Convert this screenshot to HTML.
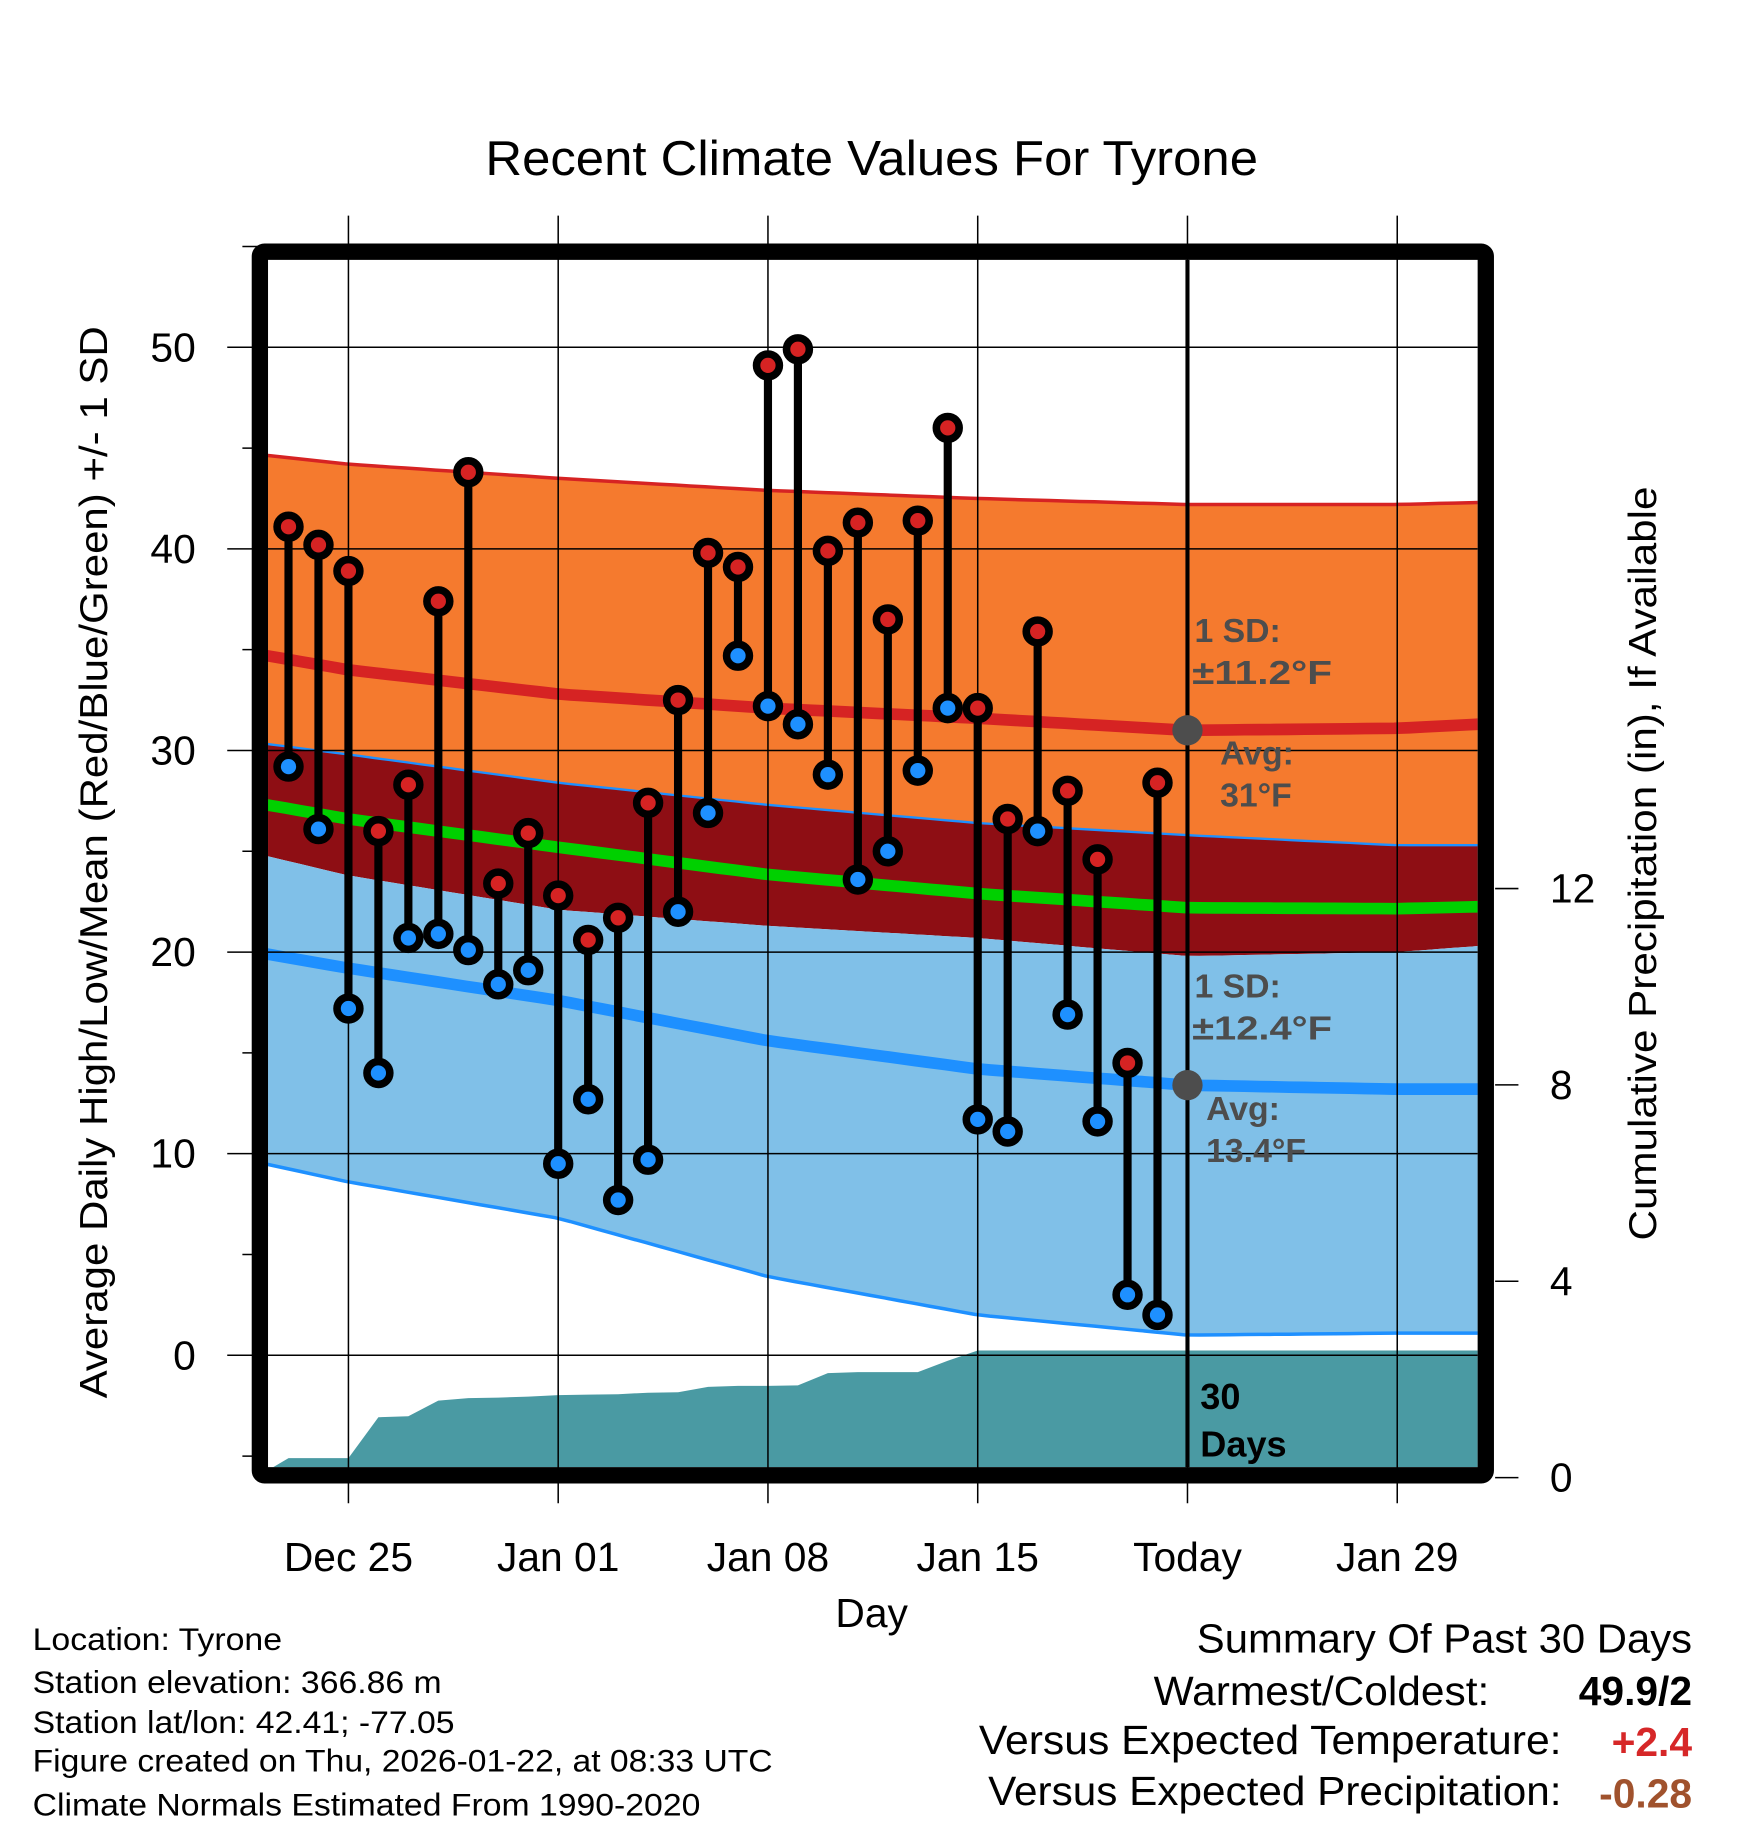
<!DOCTYPE html>
<html><head><meta charset="utf-8"><style>
html,body{margin:0;padding:0;background:#fff}
svg{display:block}
text{font-family:"Liberation Sans",Arial,sans-serif}
</style></head><body>
<svg id="chart" width="1748" height="1828" viewBox="0 0 1500 1568.65" xmlns="http://www.w3.org/2000/svg">
<defs><clipPath id="plotclip"><rect x="230" y="223" width="1038" height="1036"/></clipPath></defs>
<g id="bands" clip-path="url(#plotclip)"></g>
<g id="grid"></g>
<g id="marks" clip-path="url(#plotclip)"></g>
<g id="frame"></g>
<g id="labels"></g>
</svg>
<script>
// ---- data ----
const normDays = [-3.1, 0, 7, 14, 21, 28, 35, 37.7];
const hiMean = [34.8, 34.0, 32.8, 32.1, 31.6, 31.0, 31.1, 31.3];
const hiSD   = [9.9, 10.2, 10.7, 10.8, 10.9, 11.2, 11.1, 11.0];
const loMean = [20.0, 19.2, 17.6, 15.6, 14.2, 13.4, 13.2, 13.2];
const loSD   = [10.4, 10.6, 10.8, 11.7, 12.2, 12.4, 12.1, 12.1];
const obsDays = [-2,-1,0,1,2,3,4,5,6,7,8,9,10,11,12,13,14,15,16,17,18,19,20,21,22,23,24,25,26,27];
const highs = [41.1,40.2,38.9,26.0,28.3,37.4,43.8,23.4,25.9,22.8,20.6,21.7,27.4,32.5,39.8,39.1,49.1,49.9,39.9,41.3,36.5,41.4,46.0,32.1,26.6,35.9,28.0,24.6,14.5,28.4];
const lows  = [29.2,26.1,17.2,14.0,20.7,20.9,20.1,18.4,19.1,9.5,12.7,7.7,9.7,22.0,26.9,34.7,32.2,31.3,28.8,23.6,25.0,29.0,32.1,11.7,11.1,26.0,16.9,11.6,3.0,2.0];
const precipDays = [-3.1,-2,-1,0,1,2,3,4,5,6,7,8,9,10,11,12,13,14,15,16,17,18,19,20,21,22,27,37.7];
const precip = [0,0.4,0.4,0.4,1.23,1.25,1.57,1.62,1.63,1.65,1.68,1.69,1.70,1.73,1.74,1.85,1.87,1.87,1.88,2.13,2.15,2.15,2.15,2.38,2.59,2.59,2.59,2.59];
const yTicks = [0,10,20,30,40,50];
const pTicks = [0,4,8,12];
const xTickDays = [0,7,14,21,28,35];
const xTickLabels = ["Dec 25","Jan 01","Jan 08","Jan 15","Today","Jan 29"];

// ---- axes ----
const X = d => 299 + d*180/7;
const Y = v => 1163 - 17.3*v;
const P = p => 1268 - 42.125*p;
const NS = "http://www.w3.org/2000/svg";
function mk(tag, parent, attrs){const e=document.createElementNS(NS,tag);for(const k in attrs)e.setAttribute(k,attrs[k]);document.getElementById(parent).appendChild(e);return e;}
function interp(arr, d){for(let i=0;i<normDays.length-1;i++){if(d<=normDays[i+1]){const t=(d-normDays[i])/(normDays[i+1]-normDays[i]);return arr[i]+(arr[i+1]-arr[i])*t;}}return arr[arr.length-1];}
const samp=[];for(let d=-3.1;d<37.7;d+=0.5)samp.push(d);samp.push(37.7);
const f=(fn)=>samp.map(d=>X(d).toFixed(1)+","+Y(fn(d)).toFixed(1));
const hiTop=d=>interp(hiMean,d)+interp(hiSD,d), hiBot=d=>interp(hiMean,d)-interp(hiSD,d);
const loTop=d=>interp(loMean,d)+interp(loSD,d), loBot=d=>interp(loMean,d)-interp(loSD,d);
function band(top,bot,fill,name){const p=f(top).concat(f(bot).reverse());const e=mk("polygon","bands",{points:p.join(" "),fill:fill});

}
function line(fn,col,w,name){const e=mk("polyline","bands",{points:f(fn).join(" "),fill:"none",stroke:col,"stroke-width":w});

}
band(hiTop,loTop,"#f57a2e","high-sd-band");
band(loTop,hiBot,"#8e0e14","overlap-band");
band(hiBot,loBot,"#80c0e8","low-sd-band");
line(hiTop,"#d62323",3,"high-plus-sd-line");
line(loTop,"#1e90ff",2,"low-plus-sd-line");
line(loBot,"#1e90ff",3,"low-minus-sd-line");
line(d=>interp(hiMean,d),"#d62323",10,"normal-high-line");
line(d=>interp(loMean,d),"#1e90ff",10,"normal-low-line");
line(d=>(interp(hiMean,d)+interp(loMean,d))/2,"#00d000",10,"normal-mean-line");
// precip
{const pts=precipDays.map((d,i)=>X(d).toFixed(1)+","+P(precip[i]).toFixed(1));pts.push(X(37.7)+","+1270,X(-3.1)+","+1270);
const e=mk("polygon","bands",{points:pts.join(" "),fill:"#4a9aa3"});

}
// grid
yTicks.forEach(v=>{const e=mk("line","grid",{x1:195,x2:1268,y1:Y(v),y2:Y(v),stroke:"#000","stroke-width":1.3});


const t=mk("text","labels",{x:168,y:Y(v)+12,"font-size":35,"text-anchor":"end"});t.textContent=v;

});
for(let v=-5;v<=55;v+=10){const e=mk("line","grid",{x1:208,x2:223,y1:Y(v),y2:Y(v),stroke:"#000","stroke-width":1.3});

}
xTickDays.forEach((d,i)=>{const e=mk("line","grid",{x1:X(d),x2:X(d),y1:185,y2:1290,stroke:"#000","stroke-width":1.3});


const t=mk("text","labels",{x:X(d),y:1348,"font-size":35,"text-anchor":"middle"});t.textContent=xTickLabels[i];

});
pTicks.forEach(p=>{const e=mk("line","grid",{x1:1283,x2:1303,y1:P(p),y2:P(p),stroke:"#000","stroke-width":1.3});


const t=mk("text","labels",{x:1330,y:P(p)+12,"font-size":35});t.textContent=p;

});
// today line
{const e=mk("line","marks",{x1:X(28),x2:X(28),y1:215,y2:1270,stroke:"#000","stroke-width":3.5});

}
// stems & dots
obsDays.forEach((d,i)=>{const x=X(d);
const s=mk("line","marks",{x1:x,x2:x,y1:Y(highs[i]),y2:Y(lows[i]),stroke:"#000","stroke-width":7});


const h=mk("circle","marks",{cx:x,cy:Y(highs[i]),r:9.8,fill:"#d62323",stroke:"#000","stroke-width":6.5});


const l=mk("circle","marks",{cx:x,cy:Y(lows[i]),r:9.8,fill:"#1e90ff",stroke:"#000","stroke-width":6.5});

});
// today avg dots
{const a=mk("circle","marks",{cx:X(28),cy:Y(interp(hiMean,28)),r:13,fill:"#4d4d4d"});


const b=mk("circle","marks",{cx:X(28),cy:Y(interp(loMean,28)),r:13,fill:"#4d4d4d"});

}
// frame
{const e=mk("rect","frame",{x:223,y:216,width:1052,height:1050,fill:"none",stroke:"#000","stroke-width":14,rx:4});

}
</script>
<svg style="position:absolute;left:0;top:0" width="1748" height="1828" viewBox="0 0 1500 1568.65" xmlns="http://www.w3.org/2000/svg">
<text x="748" y="150" font-size="42" text-anchor="middle" textLength="663" lengthAdjust="spacingAndGlyphs">Recent Climate Values For Tyrone</text>
<text x="0" y="0" font-size="33" text-anchor="middle" textLength="920" lengthAdjust="spacingAndGlyphs" transform="translate(92,740) rotate(-90)">Average Daily High/Low/Mean (Red/Blue/Green) +/- 1 SD</text>
<text x="0" y="0" font-size="33" text-anchor="middle" textLength="647" lengthAdjust="spacingAndGlyphs" transform="translate(1421,741) rotate(-90)">Cumulative Precipitation (in), If Available</text>
<text x="748" y="1396" font-size="35" text-anchor="middle">Day</text>
<g font-size="29" font-weight="bold" fill="#4d4d4d">
<text x="1025" y="551">1 SD:</text>
<text x="1023" y="587" textLength="120" lengthAdjust="spacingAndGlyphs">±11.2°F</text>
<text x="1047" y="656">Avg:</text>
<text x="1047" y="692">31°F</text>
<text x="1025" y="856">1 SD:</text>
<text x="1023" y="892" textLength="120" lengthAdjust="spacingAndGlyphs">±12.4°F</text>
<text x="1035" y="961">Avg:</text>
<text x="1035" y="997">13.4°F</text>
</g>
<text x="1030" y="1209" font-size="31" font-weight="bold">30</text>
<text x="1030" y="1250" font-size="31" font-weight="bold">Days</text>
<g font-size="27">
<text x="28" y="1416" textLength="214" lengthAdjust="spacingAndGlyphs">Location: Tyrone</text>
<text x="28" y="1453" textLength="351" lengthAdjust="spacingAndGlyphs">Station elevation: 366.86 m</text>
<text x="28" y="1487" textLength="362" lengthAdjust="spacingAndGlyphs">Station lat/lon: 42.41; -77.05</text>
<text x="28" y="1520" textLength="635" lengthAdjust="spacingAndGlyphs">Figure created on Thu, 2026-01-22, at 08:33 UTC</text>
<text x="28" y="1558" textLength="573" lengthAdjust="spacingAndGlyphs">Climate Normals Estimated From 1990-2020</text>
</g>
<g font-size="35">
<text x="1452" y="1418" text-anchor="end" textLength="425" lengthAdjust="spacingAndGlyphs">Summary Of Past 30 Days</text>
<text x="1278" y="1463" text-anchor="end" textLength="288" lengthAdjust="spacingAndGlyphs">Warmest/Coldest:</text>
<text x="1452" y="1463" text-anchor="end" font-weight="bold">49.9/2</text>
<text x="1340" y="1505" text-anchor="end" textLength="500" lengthAdjust="spacingAndGlyphs">Versus Expected Temperature:</text>
<text x="1452" y="1507" text-anchor="end" font-weight="bold" fill="#d62728">+2.4</text>
<text x="1340" y="1549" text-anchor="end" textLength="492" lengthAdjust="spacingAndGlyphs">Versus Expected Precipitation:</text>
<text x="1452" y="1551" text-anchor="end" font-weight="bold" fill="#a0522d">-0.28</text>
</g>
</svg>
</body></html>
